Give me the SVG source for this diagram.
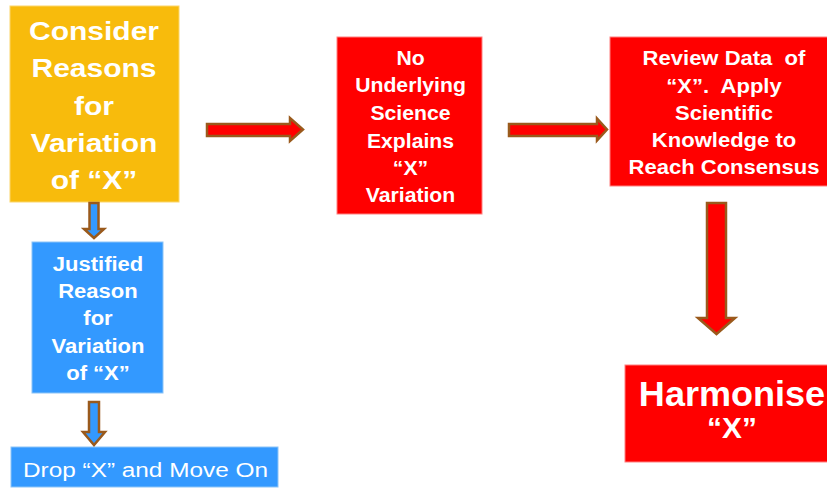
<svg xmlns="http://www.w3.org/2000/svg" width="827" height="488" viewBox="0 0 827 488">
<style>
.t{font-family:"Liberation Sans",Arial,sans-serif;fill:#fff;font-weight:bold;text-anchor:middle}
.r{font-weight:normal;text-anchor:start}
.arr{stroke:#9a5a1c;stroke-width:2.5;stroke-linejoin:miter}
.red{fill:#ff0000}
.blue{fill:#3399ff}
</style>
<rect width="827" height="488" fill="#fff"/>
<g id="consider">
<rect x="10" y="6" width="169" height="196" fill="#f8bb0c" stroke="#fbd66a" stroke-width="1"/>
<g transform="translate(94 0) scale(1.2 1)" class="t" font-size="25">
<text x="0" y="40">Consider</text>
<text x="0" y="77.5">Reasons</text>
<text x="0" y="115">for</text>
<text x="0" y="152">Variation</text>
<text x="0" y="189">of “X”</text>
</g>
</g>
<g id="justified">
<rect x="32" y="242" width="131" height="151" fill="#3399ff" stroke="#8cc4f7" stroke-width="1"/>
<g transform="translate(98 0) scale(1.13 1)" class="t" font-size="19.5">
<text x="0" y="271">Justified</text>
<text x="0" y="298">Reason</text>
<text x="0" y="325">for</text>
<text x="0" y="353">Variation</text>
<text x="0" y="380">of “X”</text>
</g>
</g>
<g id="drop">
<rect x="11" y="447" width="267" height="40" fill="#3399ff" stroke="#8cc4f7" stroke-width="1"/>
<text x="23" y="477" class="t r" font-size="19.5" textLength="245" lengthAdjust="spacingAndGlyphs">Drop “X” and Move On</text>
</g>
<g id="noscience">
<rect x="337" y="37" width="145" height="177" fill="#ff0000" stroke="#ff8080" stroke-width="1"/>
<g transform="translate(410.5 0) scale(1.06 1)" class="t" font-size="20">
<text x="0" y="65">No</text>
<text x="0" y="92">Underlying</text>
<text x="0" y="120">Science</text>
<text x="0" y="148">Explains</text>
<text x="0" y="175">“X”</text>
<text x="0" y="202">Variation</text>
</g>
</g>
<g id="review">
<rect x="610" y="37" width="220" height="149" fill="#ff0000" stroke="#ff8080" stroke-width="1"/>
<g transform="translate(724 0) scale(1.13 1)" class="t" font-size="19.5">
<text x="0" y="65">Review Data&#160; of</text>
<text x="0" y="93">“X”.&#160; Apply</text>
<text x="0" y="120">Scientific</text>
<text x="0" y="147">Knowledge to</text>
<text x="0" y="174">Reach Consensus</text>
</g>
</g>
<g id="harmonise">
<rect x="625" y="365" width="205" height="97" fill="#ff0000" stroke="#ff8080" stroke-width="1"/>
<g transform="translate(732 0) scale(1.03 1)" class="t">
<text x="0" y="406" font-size="35">Harmonise</text>
<text x="0" y="438" font-size="29">“X”</text>
</g>
</g>
<g id="connectors">
<polygon class="arr red" points="207,124 290,124 290,118 303,129.5 290,141 290,136 207,136"/>
<polygon class="arr red" points="509,124 597,124 597,118.5 607,129.5 597,140.5 597,136 509,136"/>
<polygon class="arr blue" points="89.5,203 98.5,203 98.5,229 104,229 94,238 84,229 89.5,229"/>
<polygon class="arr blue" points="89,402 99,402 99,432 105,432 94,445 83,432 89,432"/>
<polygon class="arr red" points="707,203 726,203 726,318 735,318 716.5,334 698,318 707,318"/>
</g>
</svg>
